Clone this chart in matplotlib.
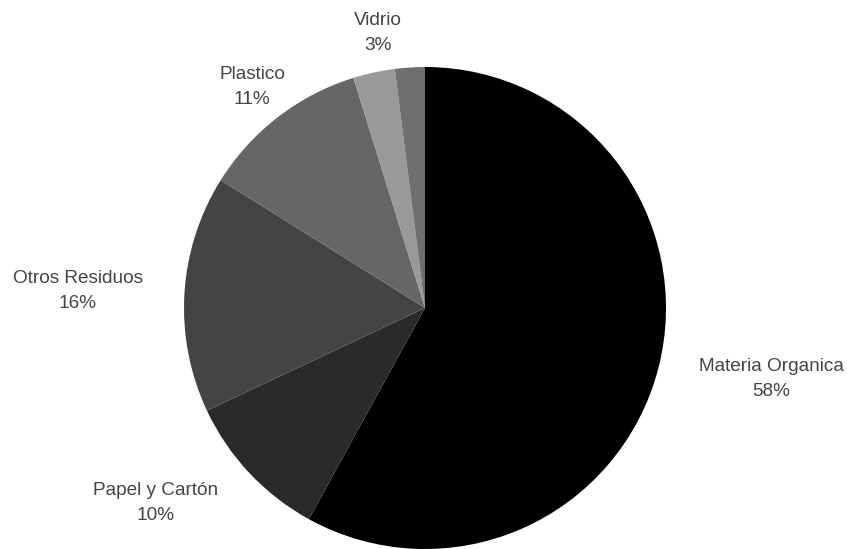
import matplotlib
matplotlib.use("Agg")
import matplotlib.pyplot as plt
import numpy as np

categories = ["Materia Organica", "Papel y Cartón", "Otros Residuos", "Plastico", "Vidrio", "Otros"]
values = [58.0, 10.0, 15.9, 11.3, 2.8, 2.0]
pct_labels = ["58%", "10%", "16%", "11%", "3%", None]
colors = ["#000000", "#2a2a2a", "#444444", "#666666", "#999999", "#6f6f6f"]

W, H = 847, 549
R = 241.0
cx, cy = 425.0, 241.0  # pixel center from bottom-left

# label centres (pixels from top-left of image)
label_px = [(771, 379), (156, 503), (78, 291), (252, 87), (378, 33), None]

fig = plt.figure(figsize=(W / 100, H / 100), dpi=100)
ax = fig.add_axes([0, 0, 1, 1])
ax.pie(values, colors=colors, startangle=90, counterclock=False, radius=1.0,
       wedgeprops=dict(linewidth=0))
ax.set_xlim(-cx / R, (W - cx) / R)
ax.set_ylim(-cy / R, (H - cy) / R)
ax.set_aspect("auto")
ax.axis("off")

for name, pct, pos in zip(categories, pct_labels, label_px):
    if pct is None:
        continue
    x = (pos[0] - cx) / R
    y = ((H - pos[1]) - cy) / R
    ax.text(x, y, f"{name}\n{pct}", ha="center", va="center",
            fontsize=13.7, family=["Liberation Sans", "DejaVu Sans"], color="#444444",
            linespacing=1.65)

fig.savefig("out.png", dpi=100)
